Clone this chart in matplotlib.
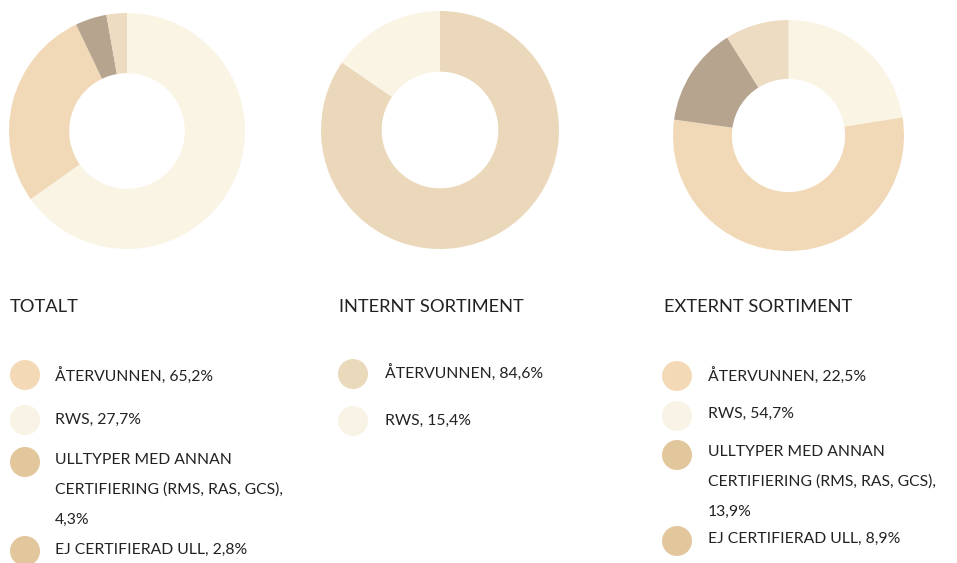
import matplotlib
matplotlib.use("Agg")
import matplotlib.pyplot as plt
from matplotlib.patches import Circle

W, H = 957, 563

# data
titles = ["TOTALT", "INTERNT SORTIMENT", "EXTERNT SORTIMENT"]

totalt_labels = ["ÅTERVUNNEN, 65,2%", "RWS, 27,7%",
                 "ULLTYPER MED ANNAN\nCERTIFIERING (RMS, RAS, GCS),\n4,3%",
                 "EJ CERTIFIERAD ULL, 2,8%"]
totalt_values = [65.2, 27.7, 4.3, 2.8]

internt_labels = ["ÅTERVUNNEN, 84,6%", "RWS, 15,4%"]
internt_values = [84.6, 15.4]

externt_labels = ["ÅTERVUNNEN, 22,5%", "RWS, 54,7%",
                  "ULLTYPER MED ANNAN\nCERTIFIERING (RMS, RAS, GCS),\n13,9%",
                  "EJ CERTIFIERAD ULL, 8,9%"]
externt_values = [22.5, 54.7, 13.9, 8.9]

# colours as they appear in the rings and in the legend dots
ring_colors = [["#FAF4E5", "#F1D9B7", "#B6A48E", "#EDDCC1"],
               ["#EBD8BA", "#FAF4E5"],
               ["#FAF4E5", "#F1D9B7", "#B6A48E", "#EDDCC1"]]
dot_colors = [["#F3D9B5", "#F8F3E4", "#E2C69C", "#E2C69C"],
              ["#EBD9BB", "#F8F3E4"],
              ["#F3D9B5", "#F8F3E4", "#E2C69C", "#E2C69C"]]

# layout in pixels (top-left origin)
ring_centers = [(127, 131), (440, 130), (788.5, 135.5)]
ring_radius = [118, 119, 115.5]
title_pos = [(10, 307), (339, 307), (664, 307)]
dot_x = [25, 353, 677]
text_x = [55, 385, 708]
dot_y = [[375, 420, 462, 551], [374, 421], [376, 416, 455, 541]]
text_y = [[376, 420, 490, 550], [373, 421], [376, 414, 482, 539]]
line_gap = 29.5

plt.rcParams['font.family'] = ['Lato', 'DejaVu Sans']
fig = plt.figure(figsize=(W / 100, H / 100), dpi=100)

groups = [(totalt_labels, totalt_values),
          (internt_labels, internt_values),
          (externt_labels, externt_values)]

for i, (labels, values) in enumerate(groups):
    cx, cy = ring_centers[i]
    r = ring_radius[i]
    ax = fig.add_axes([(cx - r) / W, (H - cy - r) / H, 2 * r / W, 2 * r / H])
    ax.pie(values, colors=ring_colors[i], startangle=90, counterclock=False,
           radius=1.0, wedgeprops=dict(width=0.51, linewidth=0))
    ax.set_xlim(-1, 1)
    ax.set_ylim(-1, 1)
    ax.set_aspect('equal')
    ax.axis('off')

ov = fig.add_axes([0, 0, 1, 1])
ov.set_xlim(0, W)
ov.set_ylim(H, 0)
ov.axis('off')

for i, (labels, values) in enumerate(groups):
    tx, ty = title_pos[i]
    ov.text(tx, ty, titles[i], fontsize=13.2, color="#222222", va='center', ha='left')
    for j, lab in enumerate(labels):
        ov.add_patch(Circle((dot_x[i], dot_y[i][j]), 15, color=dot_colors[i][j], lw=0))
        lines = lab.split("\n")
        for k, ln in enumerate(lines):
            if len(lines) > 1:
                y = text_y[i][j] + (k - 1) * line_gap
            else:
                y = text_y[i][j]
            ov.text(text_x[i], y, ln, fontsize=11.3, color="#222222",
                    va='center', ha='left')

fig.savefig("out.png", dpi=100, facecolor="white")
